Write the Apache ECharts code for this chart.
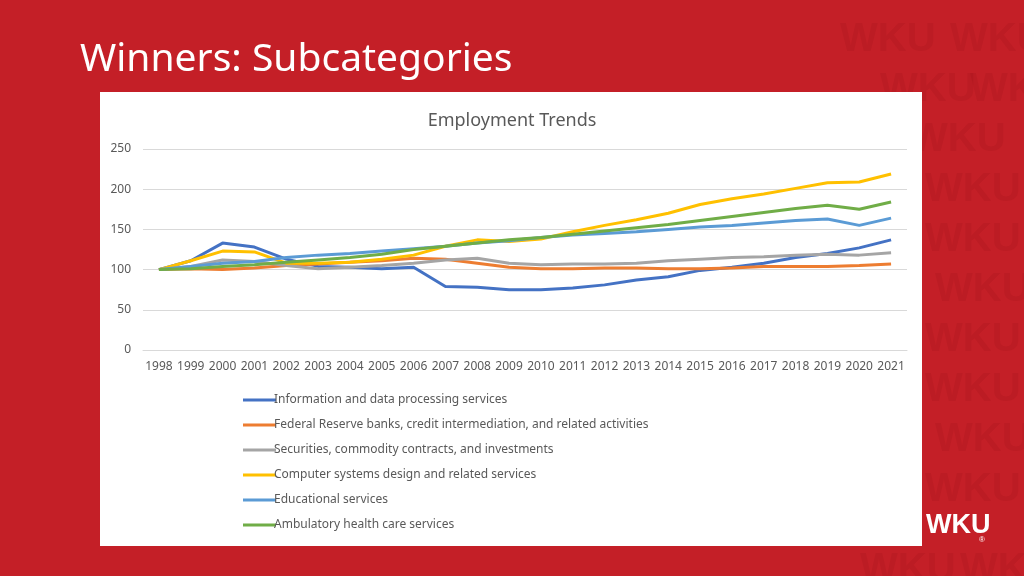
<!DOCTYPE html>
<html>
<head>
<meta charset="utf-8">
<script src="https://cdn.jsdelivr.net/npm/echarts@6/dist/echarts.min.js"></script>
<style>
html,body{margin:0;padding:0;background:#c41f27;}
#c{width:1024px;height:576px;}
</style>
</head>
<body>
<div id="c"></div>
<script>
const years = ['1998','1999','2000','2001','2002','2003','2004','2005','2006','2007','2008','2009','2010','2011','2012','2013','2014','2015','2016','2017','2018','2019','2020','2021'];
const yTicks = [0, 50, 100, 150, 200, 250];
const seriesNames = [
  'Information and data processing services',
  'Federal Reserve banks, credit intermediation, and related activities',
  'Securities, commodity contracts, and investments',
  'Computer systems design and related services',
  'Educational services',
  'Ambulatory health care services'
];
const infoData = [100,111,133,128,113,104,103,101,103,79,78,75,75,77,81,87,91,99,103,108,115,120,127,137];
const fedData = [100,101,100,102,105,107,109,111,114,113,108,103,101,101,102,102,101,101,102,104,104,104,105,107];
const secData = [100,104,112,110,105,101,103,105,108,112,114,108,106,107,107,108,111,113,115,116,118,119,118,121];
const compData = [100,111,123,122,108,108,109,113,118,129,137,135,138,147,155,162,170,181,188,194,201,208,209,219];
const eduData = [100,104,108,110,115,118,120,123,126,129,133,136,140,143,145,147,150,153,155,158,161,163,155,164];
const ambData = [100,101,104,106,109,112,115,119,125,129,133,137,140,144,148,152,156,161,166,171,176,180,175,184];
const allData = [infoData, fedData, secData, compData, eduData, ambData];
const colors = ['#4472C4','#ED7D31','#A5A5A5','#FFC000','#5B9BD5','#70AD47'];

const chart = echarts.init(document.getElementById('c'), null, {renderer:'canvas'});

const watermarks = [];
const wmPos = [[840,20],[950,20],[880,70],[970,70],[910,120],[925,170],[925,220],[935,270],[925,320],[925,370],[935,420],[925,470],[960,550],[860,550]];
wmPos.forEach(p => watermarks.push({
  type:'text', left:p[0], top:p[1], silent:true, z:-5,
  style:{text:'WKU', fill:'rgba(110,0,10,0.09)', font:'bold 40px "Liberation Sans"'}
}));

chart.setOption({
  backgroundColor:'#c41f27',
  animation:false,
  color: colors,
  graphic: watermarks.concat([
    {type:'rect', shape:{x:100,y:92,width:822,height:454}, style:{fill:'#ffffff'}, z:-1},
    {type:'text', left:80, top:40, style:{text:'Winners: Subcategories', fill:'#ffffff', font:'39px "Noto Sans"'}},
    {type:'text', left:926, top:512, style:{text:'WKU', fill:'#ffffff', font:'bold 27px "Liberation Sans"'}},
    {type:'text', left:979, top:536, style:{text:'®', fill:'#ffffff', font:'8px "Liberation Sans"'}}
  ]),
  title:{
    text:'Employment Trends', left:'center', top:107,
    textStyle:{color:'#595959', fontSize:18, fontWeight:'normal', fontFamily:'"Noto Sans"'}
  },
  grid:{left:143, right:117, top:149, bottom:226, containLabel:false},
  legend:{
    orient:'vertical', left:238, top:388,
    itemWidth:33, itemHeight:3, itemGap:11,
    icon:'rect',
    textStyle:{color:'#595959', fontSize:12, fontFamily:'"Noto Sans"', lineHeight:14, padding:[0,0,0,-7]},
    data: seriesNames
  },
  xAxis:{
    type:'category', data:years, boundaryGap:true,
    axisLine:{lineStyle:{color:'#d9d9d9'}},
    axisTick:{show:false},
    axisLabel:{color:'#595959', fontSize:12, interval:0, margin:11, fontFamily:'"Noto Sans"'}
  },
  yAxis:{
    type:'value', min:yTicks[0], max:yTicks[yTicks.length-1], interval:50,
    axisLine:{show:false}, axisTick:{show:false},
    splitLine:{lineStyle:{color:'#d9d9d9'}},
    axisLabel:{color:'#595959', fontSize:12, margin:12, fontFamily:'"Noto Sans"'}
  },
  series: seriesNames.map((n,i)=>({
    name:n, type:'line', data:allData[i], showSymbol:false, symbol:'none',
    lineStyle:{width:3, color:colors[i]}
  }))
});
</script>
</body>
</html>
